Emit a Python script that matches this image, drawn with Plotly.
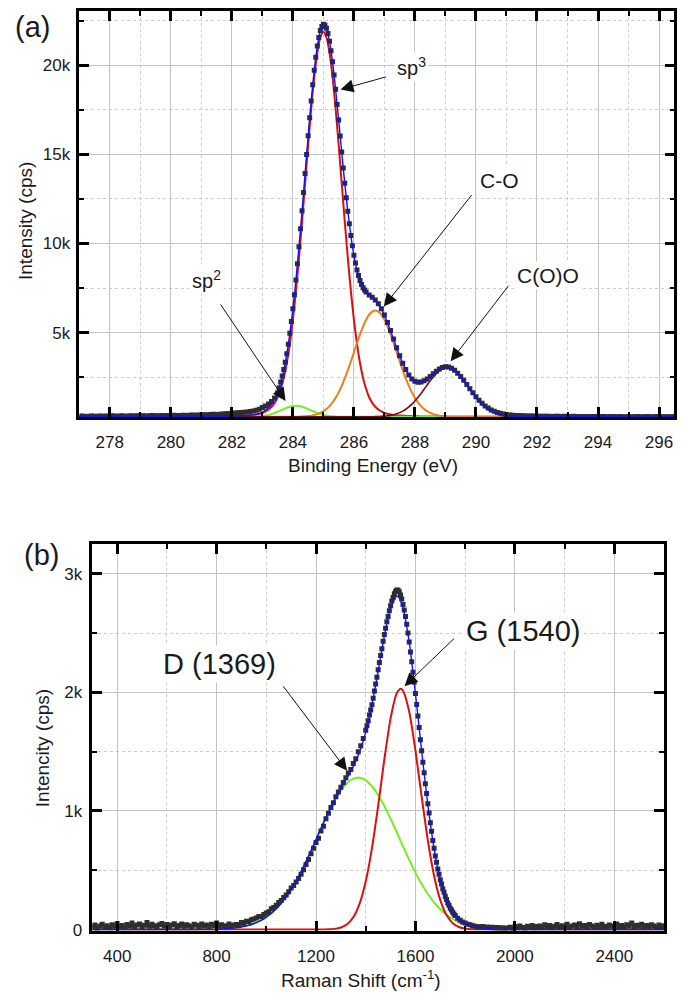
import plotly.graph_objects as go

W, H = 684, 997

# ---------------- Panel (a): XPS C1s ----------------
XPS_X = [
    277.0, 277.1, 277.2, 277.3, 277.4, 277.5, 277.6, 277.7, 277.8, 277.9,
    278.0, 278.1, 278.2, 278.3, 278.4, 278.5, 278.6, 278.7, 278.8, 278.9,
    279.0, 279.1, 279.2, 279.3, 279.4, 279.5, 279.6, 279.7, 279.8, 279.9,
    280.0, 280.1, 280.2, 280.3, 280.4, 280.5, 280.6, 280.7, 280.8, 280.9,
    281.0, 281.1, 281.2, 281.3, 281.4, 281.5, 281.6, 281.7, 281.8, 281.9,
    282.0, 282.1, 282.2, 282.3, 282.4, 282.5, 282.6, 282.7, 282.8, 282.9,
    283.0, 283.1, 283.2, 283.3, 283.4, 283.5,
    283.55, 283.6, 283.65, 283.7, 283.75, 283.8, 283.85, 283.9, 283.95, 284.0,
    284.05, 284.1, 284.15, 284.2, 284.25, 284.3, 284.35, 284.4, 284.45, 284.5,
    284.55, 284.6, 284.65, 284.7, 284.75, 284.8, 284.85, 284.9, 284.95, 285.0,
    285.05, 285.1, 285.15, 285.2, 285.25, 285.3, 285.35, 285.4, 285.45, 285.5,
    285.55, 285.6, 285.65, 285.7, 285.75, 285.8, 285.85, 285.9, 285.95, 286.0,
    286.05, 286.1, 286.15, 286.2, 286.25, 286.3, 286.35, 286.4,
    286.5, 286.6, 286.7, 286.8, 286.9, 287.0, 287.1, 287.2, 287.3, 287.4,
    287.5, 287.6, 287.7, 287.8, 287.9, 288.0, 288.1, 288.2, 288.3, 288.4,
    288.5, 288.6, 288.7, 288.8, 288.9, 289.0, 289.1, 289.2, 289.3, 289.4,
    289.5, 289.6, 289.7, 289.8, 289.9, 290.0, 290.1, 290.2, 290.3, 290.4,
    290.5, 290.6, 290.7, 290.8, 290.9, 291.0, 291.1, 291.2, 291.3, 291.4,
    291.5, 291.6, 291.7, 291.8, 291.9, 292.0, 292.1, 292.2, 292.3, 292.4,
    292.5, 292.6, 292.7, 292.8, 292.9, 293.0, 293.1, 293.2, 293.3, 293.4,
    293.5, 293.6, 293.7, 293.8, 293.9, 294.0, 294.1, 294.2, 294.3, 294.4,
    294.5, 294.6, 294.7, 294.8, 294.9, 295.0, 295.1, 295.2, 295.3, 295.4,
    295.5, 295.6, 295.7, 295.8, 295.9, 296.0, 296.1, 296.2, 296.3, 296.4,
    296.5,
]
XPS_Y = [
    300, 312, 295, 305, 318, 298, 310, 322, 301, 315,
    308, 325, 303, 316, 328, 310, 320, 333, 312, 326,
    318, 335, 322, 330, 342, 326, 338, 350, 334, 345,
    340, 356, 344, 352, 366, 350, 362, 375, 360, 372,
    380, 392, 386, 398, 410, 404, 418, 432, 440, 458,
    474, 486, 500, 512, 530, 548, 570, 596, 640, 700,
    790, 880, 990, 1130, 1330, 1620,
    1900, 2230, 2560, 2920, 3330, 3810, 4350, 4960, 5620, 6330,
    7120, 7950, 8860, 9820, 10820, 11830, 12860, 13930, 14990, 16050,
    17050, 18000, 18900, 19720, 20450, 21080, 21560, 21950, 22180, 22300,
    22250, 22080, 21780, 21350, 20810, 20190, 19450, 18660, 17800, 16930,
    16030, 15130, 14230, 13380, 12560, 11810, 11110, 10450, 9870, 9340,
    8900, 8510, 8200, 7920, 7700, 7520, 7390, 7280,
    7110, 6980, 6820, 6620, 6340, 5980, 5570, 5120, 4640, 4150,
    3700, 3280, 2920, 2620, 2400, 2270, 2210, 2220, 2290, 2400,
    2540, 2690, 2830, 2950, 3040, 3080, 3060, 2990, 2880, 2720,
    2530, 2320, 2090, 1850, 1620, 1400, 1200, 1030, 880, 760,
    660, 580, 520, 470, 430, 400, 380, 362, 350, 340,
    332, 326, 320, 316, 312, 310, 305, 298, 308, 300,
    295, 304, 297, 290, 302, 296, 288, 299, 292, 285,
    296, 290, 283, 294, 287, 281, 292, 286, 279, 290,
    284, 278, 288, 282, 276, 287, 281, 275, 285, 279,
    274, 284, 278, 273, 283, 277, 272, 282, 276, 271,
    280,
]

FIT_X = [
    277.0, 280.0, 282.0,
    282.5, 282.6, 282.7, 282.8, 282.9, 283.0, 283.1, 283.2, 283.3, 283.4,
    283.5, 283.6, 283.7, 283.8, 283.9,
    284.0, 284.1, 284.2, 284.3, 284.4, 284.5, 284.6, 284.7, 284.8, 284.9, 285.0,
    285.1, 285.2, 285.3, 285.4, 285.5, 285.6, 285.7, 285.8, 285.9, 286.0,
    286.1, 286.2, 286.3, 286.4, 286.5, 286.6, 286.7, 286.8, 286.9, 287.0,
    287.1, 287.2, 287.3, 287.4, 287.5, 287.6, 287.7, 287.8, 287.9, 288.0,
    288.1, 288.2, 288.3, 288.4, 288.5, 288.6, 288.7, 288.8, 288.9, 289.0,
    289.1, 289.2, 289.3, 289.4, 289.5, 289.6, 289.7, 289.8, 289.9, 290.0,
    290.1, 290.2, 290.3, 290.4, 290.5, 290.6, 290.7, 290.8, 290.9, 291.0,
    291.1, 291.2, 291.3, 291.4, 291.5, 291.6,
    293.0, 296.5,
]
SP3_FIT = [
    271, 278, 315,
    345, 357, 375, 400, 440, 488, 575, 684, 837, 1055,
    1370, 1830, 2450, 3290, 4370,
    5710, 7340, 9190, 11220, 13380, 15540, 17570, 19350, 20700, 21570, 21870,
    21570, 20700, 19350, 17570, 15540, 13380, 11220, 9190, 7340, 5710,
    4370, 3290, 2450, 1830, 1370, 1055, 837, 684, 575, 488,
    440, 400, 375, 357, 345, 335, 325, 314, 308, 303,
    297, 292, 290, 288, 285, 284, 282, 281, 280, 278,
    277, 277, 276, 276, 275, 275, 274, 274, 274, 273,
    273, 273, 272, 272, 272, 272, 271, 271, 271, 271,
    271, 271, 270, 270, 270, 270,
    270, 270,
]
SP2_FIT = [
    270, 270, 270,
    270, 272, 279, 286, 297, 315, 341, 377, 425, 484,
    554, 630, 708, 780, 838,
    877, 890, 877, 838, 780, 708, 630, 554, 484, 425, 377,
    341, 315, 297, 286, 279, 275, 273, 272, 271, 270,
    270, 270, 270, 270, 270, 270, 270, 270, 270, 270,
    270, 270, 270, 270, 270, 270, 270, 270, 270, 270,
    270, 270, 270, 270, 270, 270, 270, 270, 270, 270,
    270, 270, 270, 270, 270, 270, 270, 270, 270, 270,
    270, 270, 270, 270, 270, 270, 270, 270, 270, 270,
    270, 270, 270, 270, 270, 270,
    270, 270,
]
CO_FIT = [
    270, 270, 270,
    270, 270, 270, 270, 270, 270, 270, 270, 270, 270,
    270, 270, 270, 270, 270,
    273, 276, 280, 287, 297, 313, 336, 371, 420, 489, 583,
    708, 871, 1078, 1334, 1644, 2007, 2422, 2882, 3377, 3891,
    4405, 4896, 5340, 5716, 6001, 6179, 6240, 6179, 6001, 5716,
    5340, 4896, 4405, 3891, 3377, 2882, 2422, 2007, 1644, 1334,
    1078, 871, 708, 583, 489, 420, 371, 336, 313, 297,
    287, 280, 276, 273, 271, 270, 270, 270, 270, 270,
    270, 270, 270, 270, 270, 270, 270, 270, 270, 270,
    270, 270, 270, 270, 270, 270,
    270, 270,
]
COO_FIT = [
    270, 270, 270,
    270, 270, 270, 270, 270, 270, 270, 270, 270, 270,
    270, 270, 270, 270, 270,
    270, 270, 270, 270, 270, 270, 270, 270, 270, 270, 270,
    270, 270, 270, 270, 270, 270, 270, 270, 270, 270,
    270, 270, 270, 270, 272, 276, 280, 286, 295, 308,
    327, 354, 391, 441, 507, 592, 698, 829, 983, 1163,
    1365, 1586, 1819, 2057, 2290, 2507, 2697, 2850, 2958, 3013,
    3013, 2958, 2850, 2697, 2507, 2290, 2057, 1819, 1586, 1365,
    1163, 983, 829, 698, 592, 507, 441, 391, 354, 327,
    308, 295, 286, 280, 276, 274,
    271, 270,
]
ENV_FIT = [
    271, 278, 315,
    345, 357, 384, 416, 467, 533, 646, 791, 992, 1269,
    1654, 2190, 2888, 3800, 4938,
    6320, 7966, 9807, 11805, 13917, 16021, 17996, 19735, 21064, 21944, 22290,
    22079, 21346, 20185, 18650, 16923, 15122, 13374, 11804, 10447, 9331,
    8505, 7916, 7520, 7276, 7103, 6970, 6817, 6609, 6331, 5972,
    5567, 5110, 4631, 4149, 3689, 3269, 2905, 2610, 2395, 2260,
    2201, 2209, 2277, 2388, 2524, 2670, 2809, 2926, 3010, 3048,
    3037, 2974, 2861, 2704, 2510, 2292, 2059, 1821, 1588, 1367,
    1165, 985, 831, 700, 594, 509, 443, 393, 356, 329,
    310, 297, 288, 282, 278, 276,
    271, 270,
]
XA_TICKS = [278, 280, 282, 284, 286, 288, 290, 292, 294, 296]
XA_LABELS = ["278", "280", "282", "284", "286", "288", "290", "292", "294", "296"]
YA_TICKS = [5000, 10000, 15000, 20000]
YA_LABELS = ["5k", "10k", "15k", "20k"]

# ---------------- Panel (b): Raman ----------------
RAMAN_X = [
    300, 310, 320, 330, 340, 350, 360, 370, 380, 390,
    400, 410, 420, 430, 440, 450, 460, 470, 480, 490,
    500, 510, 520, 530, 540, 550, 560, 570, 580, 590,
    600, 610, 620, 630, 640, 650, 660, 670, 680, 690,
    700, 710, 720, 730, 740, 750, 760, 770, 780, 790,
    800, 810, 820, 830, 840, 850, 860, 870, 880, 890,
    900, 910, 920, 930, 940, 950, 960, 970, 980, 990,
    1000, 1010, 1020, 1030, 1040, 1050, 1060, 1070, 1080, 1090,
    1100, 1110, 1120, 1130, 1140, 1150, 1160, 1170, 1180, 1190,
    1200, 1210, 1220, 1230, 1240, 1250, 1260, 1270, 1280, 1290,
    1300, 1310, 1320, 1330, 1340, 1350, 1360, 1370, 1380, 1390,
    1400, 1410, 1420, 1430, 1440, 1450, 1460, 1470, 1480, 1490,
    1500, 1510, 1520, 1530, 1540, 1550, 1560, 1570, 1580, 1590,
    1600, 1610, 1620, 1630, 1640, 1650, 1660, 1670, 1680, 1690,
    1700, 1710, 1720, 1730, 1740, 1750, 1760, 1770, 1780, 1790,
    1800, 1810, 1820, 1830, 1840, 1850, 1860, 1870, 1880, 1890,
    1900, 1910, 1920, 1930, 1940, 1950, 1960, 1970, 1980, 1990,
    2000, 2010, 2020, 2030, 2040, 2050, 2060, 2070, 2080, 2090,
    2100, 2110, 2120, 2130, 2140, 2150, 2160, 2170, 2180, 2190,
    2200, 2210, 2220, 2230, 2240, 2250, 2260, 2270, 2280, 2290,
    2300, 2310, 2320, 2330, 2340, 2350, 2360, 2370, 2380, 2390,
    2400, 2410, 2420, 2430, 2440, 2450, 2460, 2470, 2480, 2490,
    2500, 2510, 2520, 2530, 2540, 2550, 2560, 2570, 2580, 2590,
    2600,
    1405, 1415, 1425, 1435, 1445, 1455, 1465, 1475, 1485, 1495,
    1505, 1515, 1525, 1535, 1545, 1555, 1565, 1575, 1585, 1595,
    1605, 1615, 1625, 1635, 1645, 1655, 1665, 1675, 1685, 1695,
    1705, 1715, 1725, 1735, 1745, 1755,
]
RAMAN_Y = [
    25, 38, 12, 30, 45, 20, 33, 15, 40, 28,
    50, 22, 35, 18, 42, 30, 55, 25, 38, 48,
    20, 36, 60, 28, 45, 33, 18, 40, 52, 30,
    42, 25, 38, 50, 22, 35, 46, 28, 40, 32,
    20, 44, 36, 26, 48, 30, 38, 22, 45, 34,
    55, 28, 40, 32, 25, 46, 30, 38, 42, 35,
    60, 52, 70, 68, 82, 90, 98, 110, 108, 128,
    140, 150, 176, 185, 205, 228, 245, 270, 292, 318,
    350, 372, 400, 430, 466, 505, 548, 590, 640, 686,
    735, 770, 830, 870, 935, 980, 1030, 1070, 1120, 1160,
    1200, 1240, 1280, 1320, 1350, 1400, 1440, 1500, 1550, 1610,
    1680, 1760, 1850, 1950, 2070, 2190, 2310, 2430, 2540, 2640,
    2730, 2800, 2850, 2860, 2820, 2740, 2640, 2500, 2340, 2170,
    1990, 1800, 1600, 1410, 1230, 1060, 900, 750, 620, 510,
    420, 345, 280, 225, 180, 145, 118, 96, 78, 64,
    55, 45, 40, 32, 28, 24, 20, 25, 18, 22,
    15, 20, 12, 18, 10, 16, 8, 14, 20, 10,
    25, 15, 30, 18, 12, 28, 20, 35, 15, 26,
    30, 18, 40, 22, 35, 15, 28, 42, 20, 33,
    25, 45, 18, 30, 38, 22, 50, 28, 35, 20,
    42, 30, 18, 36, 25, 44, 28, 20, 38, 30,
    22, 48, 26, 35, 18, 40, 30, 55, 24, 36,
    28, 45, 20, 34, 26, 40, 30, 18, 38, 25,
    32,
    1718, 1808, 1896, 2012, 2128, 2252, 2368, 2488, 2594, 2688,
    2770, 2832, 2862, 2848, 2786, 2694, 2574, 2424, 2258, 2084,
    1898, 1704, 1508, 1322, 1148, 982, 828, 686, 568, 466,
    384, 314, 254, 204, 164, 132,
]
RF_X = [
    300, 600,
    800, 825, 850, 875, 900, 925, 950, 975, 1000, 1025,
    1050, 1075, 1100, 1125, 1150, 1175, 1200, 1225, 1250, 1275,
    1300, 1325, 1350, 1375, 1400, 1425, 1450, 1475, 1500, 1525,
    1540,
    1550, 1575, 1600, 1625, 1650, 1675, 1700, 1725, 1750, 1775,
    1800, 1825, 1850, 1875, 1900, 1925, 1950,
    2200, 2600,
]
D_FIT = [
    0, 0,
    3, 6, 9, 14, 23, 34, 51, 74, 105, 146,
    198, 262, 339, 429, 531, 641, 758, 875, 987, 1088,
    1173, 1235, 1272, 1279, 1258, 1208, 1135, 1041, 934, 819,
    748,
    701, 587, 480, 384, 300, 229, 171, 125, 89, 62,
    42, 28, 18, 12, 7, 4, 2,
    0, 0,
]
G_FIT = [
    0, 0,
    0, 0, 0, 0, 0, 0, 0, 0, 0, 0,
    0, 0, 0, 0, 0, 0, 0, 0, 2, 6,
    18, 45, 104, 217, 406, 685, 1043, 1435, 1780, 1993,
    2030,
    2013, 1836, 1510, 1121, 751, 454, 248, 122, 54, 22,
    8, 3, 1, 0, 0, 0, 0,
    0, 0,
]
ENV_B = [
    0, 0,
    3, 6, 9, 14, 23, 34, 51, 74, 105, 146,
    198, 262, 339, 429, 531, 641, 758, 875, 989, 1094,
    1191, 1280, 1376, 1496, 1664, 1893, 2178, 2476, 2714, 2812,
    2778,
    2714, 2423, 1990, 1505, 1051, 683, 419, 247, 143, 84,
    50, 31, 19, 12, 7, 4, 2,
    0, 0,
]
XB_TICKS = [400, 800, 1200, 1600, 2000, 2400]
XB_LABELS = ["400", "800", "1200", "1600", "2000", "2400"]
YB_TICKS = [0, 1000, 2000, 3000]
YB_LABELS = ["0", "1k", "2k", "3k"]

for a, b in [(XPS_X, XPS_Y), (FIT_X, SP3_FIT), (FIT_X, SP2_FIT), (FIT_X, CO_FIT),
             (FIT_X, COO_FIT), (FIT_X, ENV_FIT), (RAMAN_X, RAMAN_Y), (RF_X, D_FIT),
             (RF_X, G_FIT), (RF_X, ENV_B)]:
    assert len(a) == len(b), (len(a), len(b))

FONT = "Liberation Sans, Arial, sans-serif"
DATA_C = "#2e2e2e"
BLUE = "#1010ff"
RED = "#d81010"
GREEN = "#77ee22"
ORANGE = "#e8801e"
BROWN = "#6e0e0e"

fig = go.Figure()

def line(x, y, color, width, xa, ya):
    fig.add_trace(go.Scatter(x=x, y=y, mode="lines", xaxis=xa, yaxis=ya,
                             line=dict(color=color, width=width, shape="spline", smoothing=0.6),
                             showlegend=False, hoverinfo="skip"))

def markers(x, y, xa, ya):
    fig.add_trace(go.Scatter(x=x, y=y, mode="markers", xaxis=xa, yaxis=ya,
                             marker=dict(symbol="square", size=5, color=DATA_C, line=dict(width=0)),
                             showlegend=False))

# panel a
line(FIT_X, SP3_FIT, RED, 2, "x", "y")
line(FIT_X, SP2_FIT, GREEN, 2, "x", "y")
line(FIT_X, CO_FIT, ORANGE, 2, "x", "y")
line(FIT_X, COO_FIT, BROWN, 1.6, "x", "y")
markers(XPS_X, XPS_Y, "x", "y")
line(FIT_X, ENV_FIT, BLUE, 1.4, "x", "y")

# panel b
line(RF_X, D_FIT, GREEN, 2, "x2", "y2")
line(RF_X, G_FIT, RED, 2, "x2", "y2")
markers(RAMAN_X, RAMAN_Y, "x2", "y2")
line(RF_X, ENV_B, BLUE, 1.4, "x2", "y2")

def axis_style(**kw):
    d = dict(showline=True, linecolor="black", linewidth=2.5, mirror="allticks",
             ticks="inside", ticklen=10, tickwidth=2.5, tickcolor="black",
             showgrid=True, gridcolor="#c4c4c4", gridwidth=1, zeroline=False,
             tickfont=dict(family=FONT, size=17, color="#1a1a1a"),
             tickmode="array")
    d.update(kw)
    return d

def minor(tick0, dtick):
    return dict(tickmode="linear", tick0=tick0, dtick=dtick, ticks="inside", ticklen=5,
                tickwidth=2, tickcolor="black", showgrid=True, gridcolor="#cccccc",
                griddash="dot", gridwidth=1)

fig.update_layout(
    width=W, height=H, autosize=False,
    margin=dict(l=0, r=0, t=0, b=0),
    paper_bgcolor="white", plot_bgcolor="white",
    font=dict(family=FONT, color="#1a1a1a"),
    xaxis=axis_style(domain=[79.3 / W, 674.3 / W], anchor="y", range=[277, 296.5],
                     tickvals=XA_TICKS, ticktext=XA_LABELS, minor=minor(277, 1),
                     ticklabelstandoff=8),
    yaxis=axis_style(domain=[1 - 421 / H, 1 - 11 / H], anchor="x", range=[250, 23050],
                     tickvals=YA_TICKS, ticktext=YA_LABELS, minor=minor(0, 2500),
                     ticklabelstandoff=3),
    xaxis2=axis_style(domain=[92.3 / W, 664 / W], anchor="y2", range=[300, 2600],
                      tickvals=XB_TICKS, ticktext=XB_LABELS, minor=minor(0, 200),
                      ticklabelstandoff=8),
    yaxis2=axis_style(domain=[1 - 939 / H, 1 - 549 / H], anchor="x2", range=[-8, 3250],
                      tickvals=YB_TICKS, ticktext=YB_LABELS, minor=minor(0, 500),
                      ticklabelstandoff=4),
)

def px(x):
    return x / W

def py(y):
    return 1 - y / H

ann = []
def text(x, y, s, size, angle=0):
    ann.append(dict(x=px(x), y=py(y), xref="paper", yref="paper", text=s, showarrow=False,
                    textangle=angle, xanchor="center", yanchor="middle",
                    font=dict(family=FONT, size=size, color="#1a1a1a")))

def label(x, y, s, size):
    ann.append(dict(x=px(x), y=py(y), xref="paper", yref="paper", text=s, showarrow=False,
                    xanchor="center", yanchor="middle", bgcolor="white", borderpad=2,
                    font=dict(family=FONT, size=size, color="#1a1a1a")))

def arrow(x, y, ax, ay, xr, yr):
    ann.append(dict(x=x, y=y, xref=xr, yref=yr, ax=ax, ay=ay, text="", showarrow=True,
                    arrowhead=2, arrowsize=2.6, arrowwidth=1, arrowcolor="#111111",
                    standoff=0, startstandoff=0))

# panel letters and axis titles
text(32, 27, "(a)", 29)
text(41, 560, "(b)", 29)
text(26, 223, "Intensity (cps)", 19, -90)
text(42, 755, "Intencity (cps)", 19, -90)
text(373, 470, "Binding Energy (eV)", 19)
text(361, 988, "Raman Shift (cm<sup>-1</sup>)", 19)

# peak labels
arrow(285.56, 18640, 47, -13, "x", "y")
arrow(286.98, 6460, 89, -113, "x", "y")
arrow(289.17, 3390, 59, -77, "x", "y")
arrow(283.76, 1160, -66, -98, "x", "y")
arrow(1325, 1339, -65, -86, "x2", "y2")
arrow(1556, 2052, 51, -49, "x2", "y2")
label(411, 67, "sp<sup>3</sup>", 20)
label(499, 182, "C-O", 21)
label(548, 278, "C(O)O", 21)
label(206, 282, "sp<sup>2</sup>", 20)
label(219, 670, "D (1369)", 29)
label(523, 637, "G (1540)", 29)

fig.update_layout(annotations=ann)

# leftover white patch in panel (b) top-left
fig.add_shape(type="rect", xref="paper", yref="paper", x0=px(104), x1=px(153),
              y0=py(600), y1=py(560), fillcolor="white", line=dict(width=0), layer="between")

fig.write_html("out.html", config={"displayModeBar": False},
               post_script="document.body.style.margin='0';document.body.style.overflow='hidden';")
